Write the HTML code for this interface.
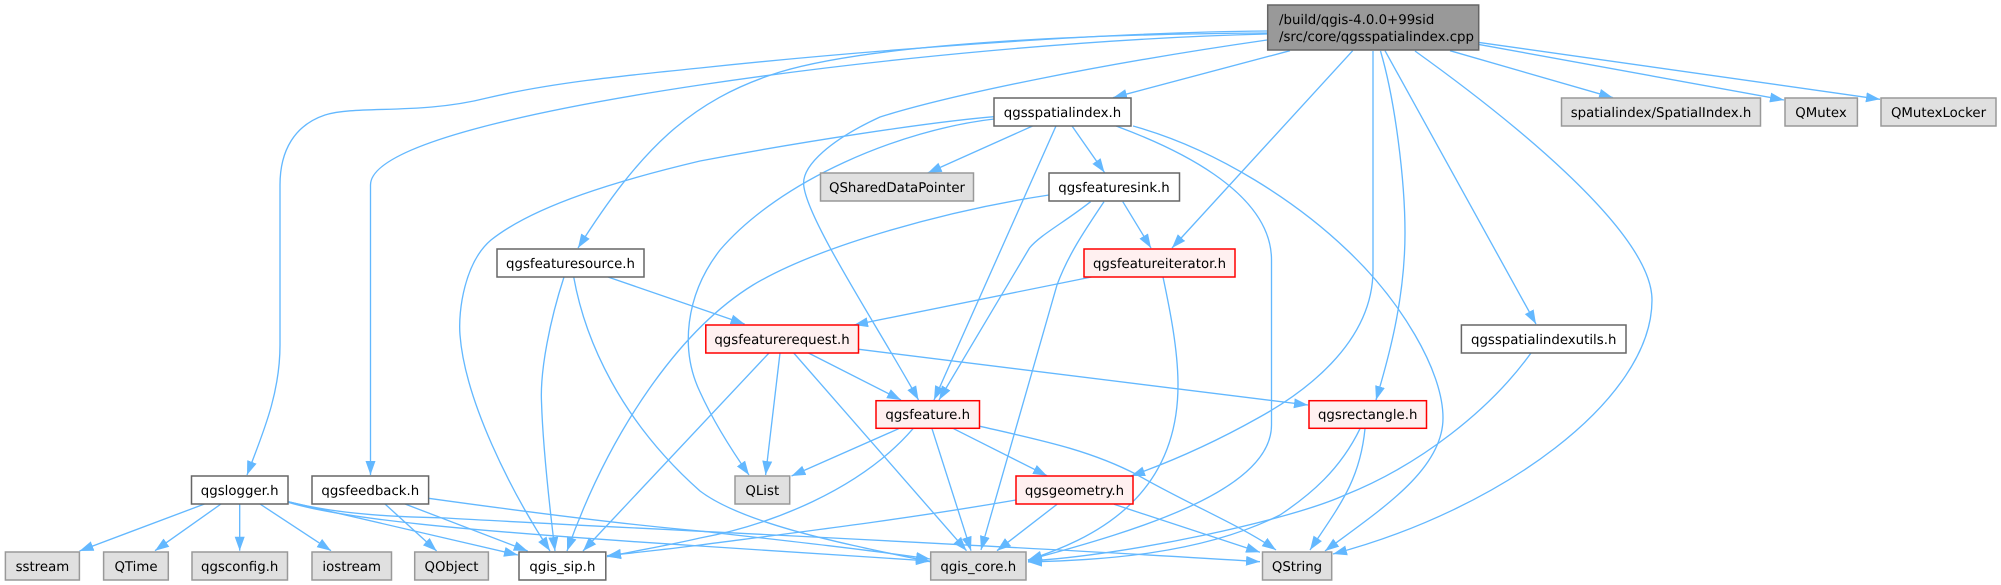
<!DOCTYPE html>
<html><head><meta charset="utf-8"><style>
html,body{margin:0;padding:0;background:#fff;width:2001px;height:585px;overflow:hidden}
svg{display:block}
text{font-family:"DejaVu Sans",sans-serif;font-size:13.33px;fill:#000;text-anchor:middle;text-rendering:geometricPrecision}
.e path{fill:none;stroke:#63b8ff;stroke-width:1.33;marker-end:url(#a)}
rect{stroke-width:1.5}
.n{fill:#fff;stroke:#666}
.g{fill:#e0e0e0;stroke:#999}
.r{fill:#fff0f0;stroke:#f00}
</style></head><body>
<svg width="2001" height="585" viewBox="0 0 2001 585" xmlns="http://www.w3.org/2000/svg">
<defs><marker id="a" markerUnits="userSpaceOnUse" markerWidth="16" markerHeight="12" refX="14" refY="6" orient="auto"><path d="M0,1L14,6L0,11z" fill="#63b8ff"/></marker></defs>
<g class="e">
<path d="M1267,31C1100,32 850,52 700,68C620,76 550,83 487,98C420,115 357,105 325,115C295,125 280,150 280,185L280,345C280,395 262,435 247,475"/>
<path d="M1267,34C1100,38 880,58 700,85C580,103 370.5,140 370.5,185L370.5,475"/>
<path d="M1267,33C1100,34 880,42 780,72C690,100 640,150 578,248"/>
<path d="M1267,40C1100,64 950,95 880,117C830,140 803.6,165 803.6,183C803.6,215 880,330 918.5,400"/>
<path d="M1290,50.7L1113,97.7"/>
<path d="M1352.7,50.7L1172,248"/>
<path d="M1373,51L1373,270C1373,345 1300,395 1258,418C1210,445 1170,462 1131,476"/>
<path d="M1380.5,51C1395,100 1405,180 1405,233C1405,300 1388,360 1376,400"/>
<path d="M1385,50.7L1536,324"/>
<path d="M1415,51C1500,112 1652,230 1652,300C1652,400 1500,510 1333,554"/>
<path d="M1450,50.7L1613,97.7"/>
<path d="M1478,44.3L1784,100"/>
<path d="M1478,42.3L1880,99.3"/>
<path d="M1032.6,126L927.7,173"/>
<path d="M1072,126L1104.5,172.5"/>
<path d="M1056,126L934,400"/>
<path d="M994,116.7C930,122 800,142 700,161C620,180 535,205 491,240C465,262 458,310 460,335C465,400 510,490 550,551"/>
<path d="M994,119C900,130 780,180 720,250C685,295 680,350 700,392C715,425 735,455 749,475"/>
<path d="M1116,126C1170,146 1271.5,190 1271.5,260L1271.5,425C1271.5,490 1140,530 1028,560"/>
<path d="M1133,126C1220,150 1300,205 1347,250C1400,300 1443,370 1443,418C1443,470 1380,510 1325,551"/>
<path d="M1049,195C950,210 820,245 753,285C680,330 610,430 567,551"/>
<path d="M1090.6,201.7C1065,222 1040,235 1029.5,248L939,400"/>
<path d="M1104,201.7C1085,230 1068,255 1057,285L981,550"/>
<path d="M1122.8,201.7L1151,248"/>
<path d="M1091.5,277L854,325"/>
<path d="M1163,277C1170,310 1178,350 1178,385C1178,500 1090,540 1028,560"/>
<path d="M608,277L744.6,324"/>
<path d="M564,277C550,320 540,370 541.5,402C543,450 550,510 555,551"/>
<path d="M573.7,277C585,340 620,420 700,491C745,525 850,545 930,561.7"/>
<path d="M769,353L583,551"/>
<path d="M780,353L765.6,475"/>
<path d="M793.75,353L966.5,550.7"/>
<path d="M808.5,353L901,400"/>
<path d="M859,349.3L1308,405"/>
<path d="M898.7,428.7L791.5,476"/>
<path d="M913,428.7C860,490 770,525 700,538C670,545 640,550 607,556.7"/>
<path d="M932,428.7L971,550.7"/>
<path d="M953.6,428.7L1047,475.7"/>
<path d="M980,426.3C1040,440 1090,450 1137.5,475C1190,505 1240,525 1276,550"/>
<path d="M1016,500C900,520 800,532 700,545C670,549 640,552 607,555.7"/>
<path d="M1057,504.3L997,550.7"/>
<path d="M1114,504.3L1260,552.3"/>
<path d="M1360,428.7C1340,470 1310,495 1280,515C1200,555 1100,560 1028,562"/>
<path d="M1365,428.7C1360,480 1340,505 1310,550"/>
<path d="M1531,353C1490,410 1420,465 1345,495C1290,520 1130,555 1028,561"/>
<path d="M204.5,504L79.5,551"/>
<path d="M221,504L155,550.7"/>
<path d="M239.7,504L239.7,550.7"/>
<path d="M260,504L331,550.7"/>
<path d="M288,501.7L518,555"/>
<path d="M288,502.3C340,518 450,530 700,546L930,561"/>
<path d="M288,501.7C340,515 400,517 446,518C600,527 1000,545 1260,561.7"/>
<path d="M385,504L436.6,551"/>
<path d="M405,504L527.7,551"/>
<path d="M428.6,498.3C520,511 620,524 700,531C780,540 870,550 930,559"/>
</g>
<rect x="1267.7" y="5" width="211" height="45" fill="#999" stroke="#666"/>
<text x="1279" y="24" style="text-anchor:start">/build/qgis-4.0.0+99sid</text>
<text x="1279" y="41" style="text-anchor:start">/src/core/qgsspatialindex.cpp</text>
<rect class="n" x="994" y="98" width="137" height="28"/><text x="1062.5" y="117">qgsspatialindex.h</text>
<rect class="g" x="1561.5" y="98" width="199" height="28"/><text x="1661" y="117">spatialindex/SpatialIndex.h</text>
<rect class="g" x="1785" y="98" width="72.4" height="28"/><text x="1821" y="117">QMutex</text>
<rect class="g" x="1881" y="98" width="115" height="28"/><text x="1938.5" y="117">QMutexLocker</text>
<rect class="g" x="820.5" y="173" width="153" height="28"/><text x="897" y="192">QSharedDataPointer</text>
<rect class="n" x="1049" y="173" width="130.5" height="28"/><text x="1114" y="192">qgsfeaturesink.h</text>
<rect class="n" x="497" y="249" width="147" height="28"/><text x="570.5" y="268">qgsfeaturesource.h</text>
<rect class="r" x="1084" y="249" width="151" height="28"/><text x="1159.5" y="268">qgsfeatureiterator.h</text>
<rect class="r" x="705.8" y="325" width="152.7" height="28"/><text x="782" y="344">qgsfeaturerequest.h</text>
<rect class="n" x="1461.4" y="325" width="164.6" height="28"/><text x="1543.7" y="344">qgsspatialindexutils.h</text>
<rect class="r" x="876" y="400.7" width="103.5" height="27.6"/><text x="927.7" y="419">qgsfeature.h</text>
<rect class="r" x="1309" y="400.7" width="117.5" height="27.6"/><text x="1367.7" y="419">qgsrectangle.h</text>
<rect class="n" x="191.5" y="476" width="96.5" height="28"/><text x="239.7" y="495">qgslogger.h</text>
<rect class="n" x="312" y="476" width="116.6" height="28"/><text x="370.3" y="495">qgsfeedback.h</text>
<rect class="g" x="735" y="476" width="54.7" height="28"/><text x="762.3" y="495">QList</text>
<rect class="r" x="1016" y="476" width="117" height="28"/><text x="1074.5" y="495">qgsgeometry.h</text>
<rect class="g" x="5.4" y="552" width="74" height="28"/><text x="42.4" y="571">sstream</text>
<rect class="g" x="103.6" y="552" width="64.7" height="28"/><text x="136" y="571">QTime</text>
<rect class="g" x="192" y="552" width="95.5" height="28"/><text x="239.7" y="571">qgsconfig.h</text>
<rect class="g" x="312" y="552" width="79.5" height="28"/><text x="351.7" y="571">iostream</text>
<rect class="g" x="414.7" y="552" width="73.7" height="28"/><text x="451.5" y="571">QObject</text>
<rect class="n" x="519" y="552" width="86.8" height="28"/><text x="562.4" y="571">qgis_sip.h</text>
<rect class="g" x="930.7" y="552" width="95.3" height="28"/><text x="978.3" y="571">qgis_core.h</text>
<rect class="g" x="1262.5" y="552" width="69.2" height="28"/><text x="1297" y="571">QString</text>
</svg>
</body></html>
